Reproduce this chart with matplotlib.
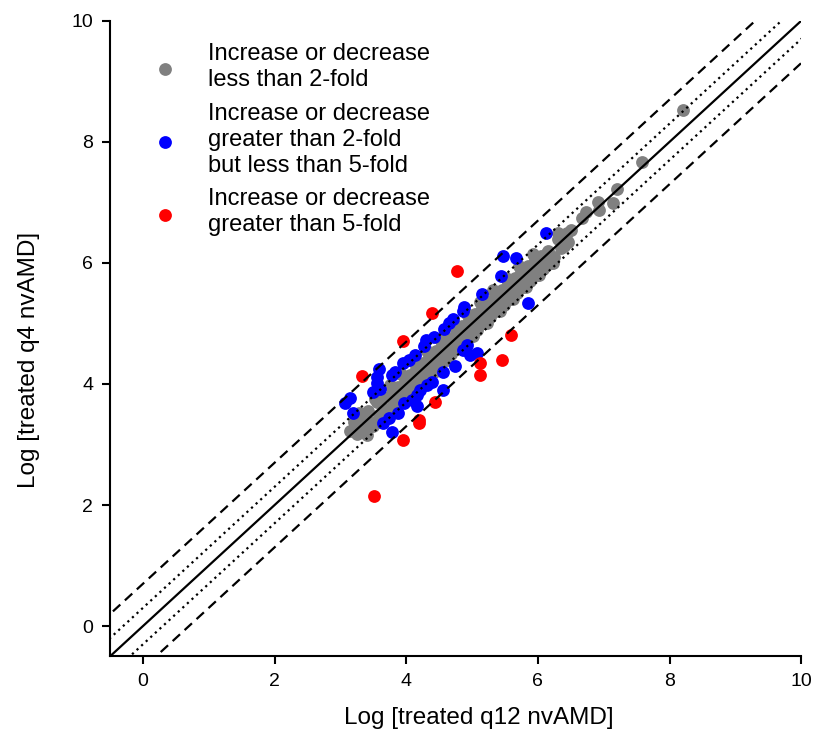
import numpy as np
import matplotlib
matplotlib.use("Agg")
import matplotlib.pyplot as plt

plt.rcParams['font.family'] = ['Liberation Sans', 'DejaVu Sans']

# genes changing less than 2-fold (grey)
gray_x = [3.15, 3.20, 3.25, 3.30, 3.35, 3.40, 3.42, 3.45, 3.50, 3.55, 3.58, 3.62,
          3.65, 3.70, 3.72, 3.78, 3.80, 3.85, 3.88, 3.90, 3.95, 3.98, 4.00, 4.05,
          4.08, 4.10, 4.15, 4.18, 4.20, 4.25, 4.28, 4.30, 4.35, 4.38, 4.40, 4.45,
          4.48, 4.50, 4.55, 4.58, 4.60, 4.65, 4.68, 4.70, 4.75, 4.78, 4.80, 4.85,
          4.88, 4.90, 4.95, 4.98, 5.00, 5.05, 5.08, 5.10, 5.15, 5.18, 5.20, 5.25,
          5.28, 5.30, 5.35, 5.38, 5.40, 5.45, 5.48, 5.50, 5.55, 5.58, 5.60, 5.65,
          5.68, 5.70, 5.75, 5.78, 5.80, 5.85, 5.88, 5.90, 5.95, 5.98, 6.00, 6.05,
          6.08, 6.10, 6.14, 6.15, 6.20, 6.23, 6.25, 6.30, 6.31, 6.35, 6.40, 6.45,
          6.46, 6.50, 6.67, 6.73, 6.91, 6.93, 7.14, 7.20, 7.58, 8.21,
          3.28, 3.52, 3.75, 3.92, 4.12, 4.32, 4.52, 4.72, 4.92, 5.12, 5.32, 5.52,
          5.72, 5.92, 3.60, 3.83, 4.02, 4.22, 4.42, 4.62, 4.82, 5.02, 5.22, 5.42,
          5.62, 5.82, 6.02]
gray_y = [3.22, 3.38, 3.18, 3.45, 3.25, 3.15, 3.55, 3.38, 3.30, 3.70, 3.48, 3.40,
          3.78, 3.58, 3.50, 3.85, 3.65, 3.72, 3.95, 3.80, 3.72, 4.05, 3.90, 4.15,
          3.95, 4.05, 4.25, 4.00, 4.15, 4.35, 4.10, 4.22, 4.45, 4.20, 4.32, 4.55,
          4.30, 4.42, 4.65, 4.40, 4.52, 4.75, 4.50, 4.62, 4.85, 4.60, 4.72, 4.95,
          4.70, 4.82, 5.05, 4.80, 4.92, 5.15, 4.90, 5.02, 5.25, 5.00, 5.12, 5.35,
          5.10, 5.22, 5.45, 5.20, 5.32, 5.55, 5.30, 5.42, 5.65, 5.40, 5.52, 5.75,
          5.50, 5.62, 5.85, 5.60, 5.72, 5.95, 5.70, 5.82, 6.05, 5.80, 5.92, 6.12,
          5.90, 6.02, 6.17, 6.20, 6.00, 6.00, 6.10, 6.40, 6.50, 6.25, 6.28, 6.50,
          6.35, 6.55, 6.74, 6.84, 7.01, 6.88, 6.99, 7.22, 7.67, 8.53,
          3.52, 3.76, 3.98, 4.16, 4.36, 4.55, 4.75, 4.95, 5.15, 5.35, 5.55, 5.75,
          5.95, 6.14, 3.38, 3.60, 3.80, 4.00, 4.20, 4.40, 4.60, 4.80, 5.00, 5.20,
          5.40, 5.60, 5.80]

# between 2- and 5-fold (blue)
blue_x = [6.12, 5.47, 5.67, 5.44, 5.15, 4.88, 4.86, 4.71, 4.65, 4.57, 4.42, 4.30,
          4.27, 4.13, 4.04, 3.95, 3.83, 3.78, 3.59, 3.56, 3.56, 3.50, 3.60, 3.15,
          3.07, 3.19, 5.85, 4.92, 4.86, 5.08, 4.97, 4.74, 4.56, 4.56, 4.39, 4.32,
          4.21, 4.16, 4.09, 4.16, 3.97, 3.88, 3.74, 3.65, 3.78]
blue_y = [6.50, 6.12, 6.08, 5.79, 5.49, 5.27, 5.21, 5.07, 5.01, 4.91, 4.78, 4.73,
          4.63, 4.48, 4.40, 4.35, 4.20, 4.15, 4.25, 4.12, 4.02, 3.87, 3.92, 3.77,
          3.69, 3.52, 5.34, 4.64, 4.56, 4.51, 4.48, 4.30, 4.20, 3.90, 4.03, 3.98,
          3.90, 3.82, 3.74, 3.64, 3.69, 3.52, 3.44, 3.36, 3.21]

# more than 5-fold (red)
red_x = [4.77, 4.39, 3.95, 3.33, 5.59, 5.46, 5.12, 5.12, 4.44, 4.19, 4.19, 3.95, 3.51]
red_y = [5.87, 5.17, 4.71, 4.13, 4.81, 4.40, 4.35, 4.15, 3.70, 3.40, 3.35, 3.07, 2.15]

fold2 = np.log10(2)
fold5 = np.log10(5)

fig = plt.figure(figsize=(8.15, 7.45), dpi=100)
ax = fig.add_axes([0.135, 0.119, 0.848, 0.853])

ms = 85
ax.scatter(gray_x, gray_y, s=ms, color='#808080', lw=0, zorder=2,
           label='Increase or decrease\nless than 2-fold')
ax.scatter(blue_x, blue_y, s=ms, color='#0000ff', lw=0, zorder=2,
           label='Increase or decrease\ngreater than 2-fold\nbut less than 5-fold')
ax.scatter(red_x, red_y, s=ms, color='#ff0000', lw=0, zorder=2,
           label='Increase or decrease\ngreater than 5-fold')

xx = np.array([-1, 11])
ax.plot(xx, xx, color='black', lw=1.6, zorder=3)
for off in (fold2, -fold2):
    ax.plot(xx, xx + off, color='black', lw=1.6, ls=(0, (1, 1.8)), zorder=3)
for off in (fold5, -fold5):
    ax.plot(xx, xx + off, color='black', lw=1.6, ls=(0, (4.5, 2.8)), zorder=3)

ax.set_xlim(-0.5, 10)
ax.set_ylim(-0.5, 10)
ax.set_xticks(range(0, 11, 2))
ax.set_yticks(range(0, 11, 2))
ax.spines['top'].set_visible(False)
ax.spines['right'].set_visible(False)
for s in ('left', 'bottom'):
    ax.spines[s].set_linewidth(1.5)
ax.tick_params(direction='out', length=6, width=1.5, labelsize=14, pad=6)

ax.set_xlabel('Log [treated q12 nvAMD]', fontsize=17.5, labelpad=12, x=0.533)
ax.set_ylabel('Log [treated q4 nvAMD]', fontsize=17.5, labelpad=23, y=0.466)

leg = ax.legend(loc='upper left', bbox_to_anchor=(0.031, 0.98), frameon=False,
                fontsize=17, handletextpad=0.83, labelspacing=0.5,
                scatterpoints=1, borderaxespad=0)
for t in leg.get_texts():
    t.set_linespacing(1.23)

fig.savefig('out.png', dpi=100)
